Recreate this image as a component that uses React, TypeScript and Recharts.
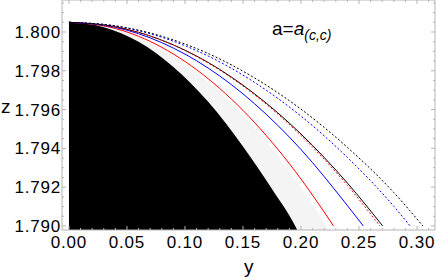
import { ComposedChart, Area, Line, XAxis, YAxis, ReferenceLine } from "recharts"

// y positions of the x-axis ticks (majors get labels)
const xMajor = [0, 0.05, 0.1, 0.15, 0.2, 0.25, 0.3]
const xMinor = [
  0, 0.01, 0.02, 0.03, 0.04, 0.05, 0.06, 0.07, 0.08, 0.09, 0.1, 0.11, 0.12, 0.13, 0.14, 0.15,
  0.16, 0.17, 0.18, 0.19, 0.2, 0.21, 0.22, 0.23, 0.24, 0.25, 0.26, 0.27, 0.28, 0.29, 0.3, 0.31,
]
const zMajor = [1.79, 1.792, 1.794, 1.796, 1.798, 1.8]
const zMinor = [
  1.79, 1.7905, 1.791, 1.7915, 1.792, 1.7925, 1.793, 1.7935, 1.794, 1.7945, 1.795, 1.7955,
  1.796, 1.7965, 1.797, 1.7975, 1.798, 1.7985, 1.799, 1.7995, 1.8, 1.8005, 1.801, 1.8015,
]

const xDomain = [-0.006, 0.3155]
const zDomain = [1.78979, 1.80165]

// black excluded region
const blackRegion = [
  { y: 0, z: 1.8005 }, { y: 0.03, z: 1.80025 }, { y: 0.06, z: 1.7995 }, { y: 0.09, z: 1.7982 },
  { y: 0.12, z: 1.7964 }, { y: 0.15, z: 1.7941 }, { y: 0.175, z: 1.7919 }, { y: 0.195, z: 1.79 },
  { y: 0.1968, z: 1.78979 },
]
// light gray band
const grayRegion = [
  { y: 0, z: 1.8005 }, { y: 0.04, z: 1.80016 }, { y: 0.08, z: 1.79914 }, { y: 0.12, z: 1.79743 },
  { y: 0.16, z: 1.79505 }, { y: 0.2, z: 1.79198 }, { y: 0.224, z: 1.78979 },
]

const redSolid = [
  { y: 0, z: 1.8005 }, { y: 0.04, z: 1.80018 }, { y: 0.08, z: 1.79921 }, { y: 0.12, z: 1.79759 },
  { y: 0.16, z: 1.79533 }, { y: 0.2, z: 1.79242 }, { y: 0.228, z: 1.79 },
]
const blueSolid = [
  { y: 0, z: 1.8005 }, { y: 0.04, z: 1.80024 }, { y: 0.08, z: 1.79945 }, { y: 0.12, z: 1.79814 },
  { y: 0.16, z: 1.7963 }, { y: 0.2, z: 1.79394 }, { y: 0.24, z: 1.79105 }, { y: 0.2537, z: 1.79 },
]
const blackSolid = [
  { y: 0, z: 1.8005 }, { y: 0.04, z: 1.80027 }, { y: 0.08, z: 1.79958 }, { y: 0.12, z: 1.79843 },
  { y: 0.16, z: 1.79681 }, { y: 0.2, z: 1.79474 }, { y: 0.24, z: 1.79221 }, { y: 0.2704, z: 1.79 },
]
const redDashed = [
  { y: 0, z: 1.8005 }, { y: 0.04, z: 1.80027 }, { y: 0.08, z: 1.79957 }, { y: 0.12, z: 1.7984 },
  { y: 0.16, z: 1.79676 }, { y: 0.2, z: 1.79466 }, { y: 0.24, z: 1.79209 }, { y: 0.268, z: 1.79 },
]
const blueDotted = [
  { y: 0, z: 1.8005 }, { y: 0.04, z: 1.80031 }, { y: 0.08, z: 1.79973 }, { y: 0.12, z: 1.79876 },
  { y: 0.16, z: 1.7974 }, { y: 0.2, z: 1.79566 }, { y: 0.24, z: 1.79353 }, { y: 0.28, z: 1.79101 },
  { y: 0.294, z: 1.79 },
]
const blackDotted = [
  { y: 0, z: 1.8005 }, { y: 0.04, z: 1.80032 }, { y: 0.08, z: 1.79978 }, { y: 0.12, z: 1.79889 },
  { y: 0.16, z: 1.79763 }, { y: 0.2, z: 1.79602 }, { y: 0.24, z: 1.79405 }, { y: 0.28, z: 1.79172 },
  { y: 0.305, z: 1.79 },
]

const FONT = "'Liberation Sans', Arial, sans-serif"
const FRAME = "#b4b4b4"
const PLOT_TOP = 0
const PLOT_RIGHT = 435

const near = (list: number[], v: number) => list.some((m) => Math.abs(m - v) < 1e-7)

// frame ticks point inwards, on both opposite sides
const BottomTick = ({ x, y, payload }: any) => {
  const major = near(xMajor, payload.value)
  const len = major ? 4 : 2
  return (
    <g>
      <line x1={x} x2={x} y1={y} y2={y - len} stroke={FRAME} />
      <line x1={x} x2={x} y1={PLOT_TOP} y2={PLOT_TOP + len} stroke={FRAME} />
      {major && (
        <text x={x} y={y + 18} textAnchor="middle" fontSize={17} letterSpacing={0.8} fontFamily={FONT} fill="#000">
          {payload.value.toFixed(2)}
        </text>
      )}
    </g>
  )
}

const LeftTick = ({ x, y, payload }: any) => {
  const major = near(zMajor, payload.value)
  const len = major ? 4 : 2
  return (
    <g>
      <line x1={x} x2={x + len} y1={y} y2={y} stroke={FRAME} />
      <line x1={PLOT_RIGHT} x2={PLOT_RIGHT - len} y1={y} y2={y} stroke={FRAME} />
      {major && (
        <text x={x - 1} y={y + 6} textAnchor="end" fontSize={17} letterSpacing={0.8} fontFamily={FONT} fill="#000">
          {payload.value.toFixed(3)}
        </text>
      )}
    </g>
  )
}

export default function App() {
  return (
    <div style={{ position: "absolute", left: 0, top: 0, width: 436, height: 280, background: "#fff" }}>
      <ComposedChart width={436} height={280} margin={{ top: PLOT_TOP, right: 436 - PLOT_RIGHT, left: 0, bottom: 0 }}>
        <XAxis
          dataKey="y"
          type="number"
          domain={xDomain}
          ticks={xMinor}
          interval={0}
          allowDataOverflow
          height={50}
          tickSize={0}
          tickMargin={0}
          tickLine={false}
          axisLine={{ stroke: FRAME }}
          tick={<BottomTick />}
        />
        <YAxis
          dataKey="z"
          type="number"
          domain={zDomain}
          ticks={zMinor}
          interval={0}
          allowDataOverflow
          width={62}
          tickSize={0}
          tickMargin={0}
          tickLine={false}
          axisLine={{ stroke: FRAME }}
          tick={<LeftTick />}
        />
        <ReferenceLine y={zDomain[1]} stroke={FRAME} ifOverflow="visible" />
        <ReferenceLine x={xDomain[1]} stroke={FRAME} ifOverflow="visible" />
        <Area data={grayRegion} dataKey="z" type="monotone" baseValue={zDomain[0]} fill="#f4f4f4" fillOpacity={1} stroke="none" isAnimationActive={false} />
        <Area data={blackRegion} dataKey="z" type="monotone" baseValue={zDomain[0]} fill="#000" fillOpacity={1} stroke="none" isAnimationActive={false} />
        <Line data={redSolid} dataKey="z" type="monotone" stroke="#ff0000" strokeWidth={1} dot={false} isAnimationActive={false} />
        <Line data={blueSolid} dataKey="z" type="monotone" stroke="#0000ff" strokeWidth={1} dot={false} isAnimationActive={false} />
        <Line data={blackSolid} dataKey="z" type="monotone" stroke="#000" strokeWidth={1} dot={false} isAnimationActive={false} />
        <Line data={redDashed} dataKey="z" type="monotone" stroke="#ff0000" strokeWidth={1} strokeDasharray="2 2" dot={false} isAnimationActive={false} />
        <Line data={blueDotted} dataKey="z" type="monotone" stroke="#0000ff" strokeWidth={1} strokeDasharray="2 2" dot={false} isAnimationActive={false} />
        <Line data={blackDotted} dataKey="z" type="monotone" stroke="#000" strokeWidth={1} strokeDasharray="2 2" dot={false} isAnimationActive={false} />
      </ComposedChart>
      <div style={{ position: "absolute", left: 1, top: 96, fontFamily: FONT, fontSize: 19, color: "#000" }}>z</div>
      <div style={{ position: "absolute", left: 244, top: 256, fontFamily: FONT, fontSize: 19, color: "#000" }}>y</div>
      <div style={{ position: "absolute", left: 272, top: 18, fontFamily: FONT, fontSize: 19, color: "#000", whiteSpace: "nowrap" }}>
        a=<i>a</i>
        <sub style={{ fontSize: 14 }}>
          <i>(c,c)</i>
        </sub>
      </div>
    </div>
  )
}
